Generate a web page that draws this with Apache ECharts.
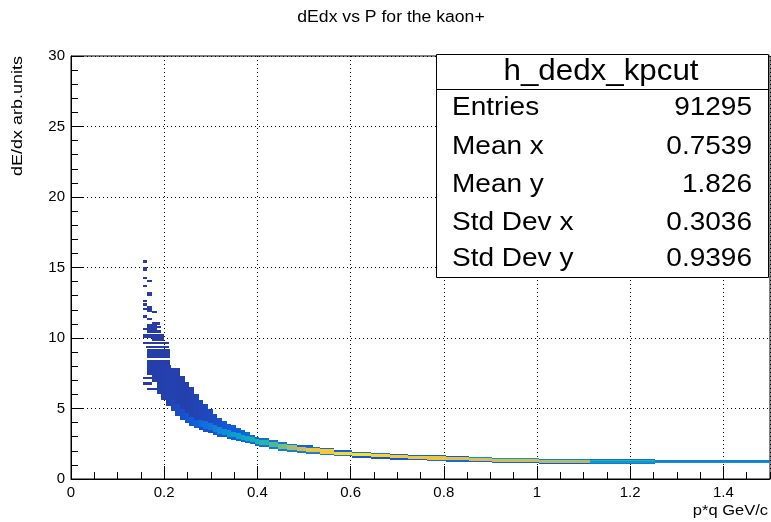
<!DOCTYPE html>
<html><head><meta charset="utf-8">
<script src="https://cdn.jsdelivr.net/npm/echarts@6/dist/echarts.min.js"></script>
<style>html,body{margin:0;padding:0;background:#fff}#c{width:771px;height:522px}</style>
</head><body><div id="c"></div>
<script>
// ---- data ----
const chartTitle = "dEdx vs P for the kaon+";
const xTitle = "p*q GeV/c";
const yTitle = "dE/dx arb.units";
const xTicks = [0, 0.2, 0.4, 0.6, 0.8, 1, 1.2, 1.4];
const yTicks = [0, 5, 10, 15, 20, 25, 30];
const statsName = "h_dedx_kpcut";
const statsLabels = ["Entries", "Mean x", "Mean y", "Std Dev x", "Std Dev y"];
const statsValues = ["91295", "0.7539", "1.826", "0.3036", "0.9396"];

// cells: [pLow, pHigh, dEdxLow, dEdxHigh, counts]
const sparseCells = [
  [0.154,0.164,15.35,15.5,40],[0.154,0.164,14.75,15.05,45],[0.154,0.164,14.15,14.3,40],
  [0.164,0.174,13.95,14.1,40],[0.154,0.164,13.6,13.75,40],[0.164,0.174,12.95,13.25,45],
  [0.154,0.164,12.55,12.7,40],[0.154,0.164,12.3,12.45,40],[0.164,0.174,11.85,12.3,45],
  [0.154,0.164,12.0,12.15,40],[0.174,0.184,11.8,11.95,40],[0.154,0.164,11.4,11.65,45],
  [0.164,0.174,11.25,11.4,40],[0.174,0.19,10.95,11.1,40],[0.164,0.184,10.6,11.0,45],
  [0.154,0.17,10.55,10.7,40],[0.184,0.194,10.7,10.85,40],[0.164,0.194,10.35,10.6,45],
  [0.154,0.2,10.0,10.3,45],[0.174,0.2,9.8,10.0,45],[0.154,0.21,9.55,9.7,40],
  [0.16,0.21,9.3,9.45,45],[0.164,0.213,8.6,9.2,50],[0.164,0.213,8.1,8.45,50],
  [0.154,0.174,6.7,6.85,40],[0.154,0.174,7.1,7.2,40],[0.164,0.184,6.3,6.45,40]
];
const lowBandCells = [
  [0.164,0.174,7.4,8.1,50],[0.174,0.184,6.9,8.1,50],[0.184,0.194,6.0,8.1,55],
  [0.194,0.204,5.6,8.1,55],[0.204,0.214,5.2,8.1,60],
  [0.214,0.224,4.8,5.6,75],[0.214,0.224,5.6,7.9,60],
  [0.224,0.234,4.45,5.3,85],[0.224,0.234,5.3,7.9,55],
  [0.234,0.244,4.2,5.0,95],[0.234,0.244,5.0,7.3,55],
  [0.244,0.254,3.95,4.7,110],[0.244,0.254,4.7,6.9,55],
  [0.254,0.264,3.75,4.4,120],[0.254,0.264,4.4,6.5,60],
  [0.264,0.274,3.6,4.2,140],[0.264,0.274,4.2,6.0,65],
  [0.274,0.284,3.45,3.7,90],[0.274,0.284,3.7,4.2,170],[0.274,0.284,4.2,5.6,70],
  [0.284,0.294,3.35,3.55,100],[0.284,0.294,3.55,4.1,190],[0.284,0.294,4.1,5.3,75],
  [0.294,0.304,3.25,3.45,100],[0.294,0.304,3.45,3.95,210],[0.294,0.304,3.95,5.0,80]
];
const midBandCells = [
  [0.304,0.314,3.1,3.3,110],[0.304,0.314,3.3,3.85,240],[0.304,0.314,3.85,4.6,90],
  [0.314,0.324,3.0,3.2,120],[0.314,0.324,3.2,3.7,270],[0.314,0.324,3.7,4.3,100],
  [0.324,0.334,2.95,3.1,120],[0.324,0.334,3.1,3.55,300],[0.324,0.334,3.55,4.1,110],
  [0.334,0.344,2.85,3.0,130],[0.334,0.344,3.0,3.45,330],[0.334,0.344,3.45,3.9,120],
  [0.344,0.354,2.8,2.95,140],[0.344,0.354,2.95,3.35,360],[0.344,0.354,3.35,3.8,130],
  [0.354,0.364,2.7,2.85,150],[0.354,0.364,2.85,3.25,380],[0.354,0.364,3.25,3.6,140],
  [0.364,0.374,2.62,2.75,160],[0.364,0.374,2.75,3.15,400],[0.364,0.374,3.15,3.45,150],
  [0.374,0.384,2.55,2.7,170],[0.374,0.384,2.7,3.05,410],[0.374,0.384,3.05,3.3,160],
  [0.384,0.394,2.45,2.6,180],[0.384,0.394,2.6,2.95,430],[0.384,0.394,2.95,3.15,170],
  [0.394,0.404,2.35,2.5,190],[0.394,0.404,2.5,2.85,450],[0.394,0.404,2.85,3.0,180],
  [0.404,0.424,2.25,2.4,200],[0.404,0.424,2.4,2.75,480],[0.404,0.424,2.75,2.9,190],
  [0.424,0.444,2.1,2.25,220],[0.424,0.444,2.25,2.6,540],[0.424,0.444,2.6,2.75,200],
  [0.444,0.464,2.0,2.15,240],[0.444,0.464,2.15,2.48,600],[0.444,0.464,2.48,2.62,210],
  [0.464,0.484,1.95,2.08,250],[0.464,0.484,2.08,2.38,680],[0.464,0.484,2.38,2.5,220],
  [0.484,0.504,1.85,1.98,250],[0.484,0.504,1.98,2.3,750],[0.484,0.52,2.3,2.4,150]
];
const highBandCells = [
  [0.504,0.534,1.78,1.9,260],[0.504,0.534,1.9,2.2,830],[0.504,0.534,2.2,2.3,200],
  [0.534,0.564,1.68,1.8,240],[0.534,0.564,1.8,2.1,880],[0.534,0.564,2.1,2.2,180],
  [0.564,0.604,1.6,1.7,220],[0.564,0.604,1.7,1.95,910],[0.564,0.604,1.95,2.05,150],
  [0.604,0.644,1.52,1.62,120],[0.604,0.644,1.62,1.85,930],[0.604,0.644,1.85,1.95,200],
  [0.644,0.684,1.45,1.55,110],[0.644,0.684,1.55,1.76,890],[0.644,0.684,1.76,1.85,260],
  [0.684,0.724,1.38,1.48,120],[0.684,0.724,1.48,1.7,870],[0.684,0.724,1.7,1.78,150],
  [0.724,0.764,1.33,1.43,130],[0.724,0.764,1.43,1.64,850],[0.724,0.764,1.64,1.72,160],
  [0.764,0.804,1.28,1.38,200],[0.764,0.804,1.38,1.6,830],[0.764,0.804,1.6,1.68,140],
  [0.804,0.854,1.22,1.32,180],[0.804,0.854,1.32,1.55,810],[0.804,0.854,1.55,1.62,110],
  [0.854,0.904,1.2,1.28,150],[0.854,0.904,1.28,1.48,780],[0.854,0.904,1.48,1.55,330],
  [0.904,1.004,1.16,1.24,150],[0.904,1.004,1.24,1.44,760],[0.904,1.004,1.44,1.5,350],
  [1.004,1.114,1.05,1.14,110],[1.004,1.114,1.14,1.34,700],[1.004,1.114,1.34,1.42,250],
  [1.114,1.254,1.08,1.16,230],[1.114,1.254,1.16,1.32,340],[1.114,1.254,1.32,1.38,480],[1.114,1.254,1.38,1.45,180],
  [1.254,1.5,1.1,1.18,230],[1.254,1.5,1.18,1.24,340],[1.254,1.5,1.24,1.36,240]
];
const zMax = 1000;
// ROOT kBird palette stops
const paletteStops = [
  [0.000,[53,42,135]],[0.125,[15,92,221]],[0.250,[20,129,214]],[0.375,[6,164,202]],
  [0.500,[46,183,164]],[0.625,[135,191,119]],[0.750,[209,187,89]],[0.875,[254,200,50]],
  [1.000,[249,251,14]]
];

function colorFor(c){
  let f = Math.max(0, Math.min(1, c / zMax));
  for (let i = 1; i < paletteStops.length; i++){
    const [f1, c1] = paletteStops[i], [f0, c0] = paletteStops[i-1];
    if (f <= f1){
      const t = (f - f0) / (f1 - f0);
      const r = c0.map((v,k)=>Math.round(v + (c1[k]-v)*t));
      return 'rgb(' + r.join(',') + ')';
    }
  }
  return 'rgb(249,251,14)';
}

const cells = sparseCells.concat(lowBandCells, midBandCells, highBandCells);
const FONT = "'Liberation Sans', Arial, Helvetica, sans-serif";

function renderItem(params, api){
  const a = api.coord([api.value(0), api.value(3)]);
  const b = api.coord([api.value(1), api.value(2)]);
  const x0 = Math.round(a[0]), x1 = Math.max(Math.round(b[0]), x0 + 1);
  const y0 = Math.round(a[1]), y1 = Math.max(Math.round(b[1]), y0 + 1);
  return {
    type: 'rect',
    shape: {x: x0, y: y0, width: x1 - x0, height: y1 - y0},
    style: {fill: colorFor(api.value(4))}
  };
}

const chart = echarts.init(document.getElementById('c'), null, {renderer: 'canvas'});

const graphics = [
  {type:'text', x:391, y:18, scaleX:1.1, z:100, style:{text:chartTitle, font:'16px '+FONT, fill:'#000', align:'center', verticalAlign:'middle'}},
  {type:'text', x:18, y:56, rotation:Math.PI/2, scaleX:1.2, z:100, style:{text:yTitle, font:'15px '+FONT, fill:'#000', align:'right', verticalAlign:'middle'}},
  {type:'text', x:768, y:511, scaleX:1.1, z:100, style:{text:xTitle, font:'15px '+FONT, fill:'#000', align:'right', verticalAlign:'middle'}},
  {type:'rect', x:0, y:0, z:100, shape:{x:436.5, y:54.5, width:332, height:223}, style:{fill:'#fff', stroke:'#000', lineWidth:1}},
  {type:'line', z:101, shape:{x1:436.5, y1:89.5, x2:768.5, y2:89.5}, style:{stroke:'#000', lineWidth:1}},
  {type:'text', x:601, y:72, scaleX:1.08, z:102, style:{text:statsName, font:'29px '+FONT, fill:'#000', align:'center', verticalAlign:'middle'}}
];
const rowY = [108, 147, 185, 223, 259];
statsLabels.forEach((lab, i) => {
  graphics.push({type:'text', x:452, y:rowY[i], scaleX:1.12, z:102, style:{text:lab, font:'25px '+FONT, fill:'#000', align:'left', verticalAlign:'middle'}});
  graphics.push({type:'text', x:752, y:rowY[i], scaleX:1.12, z:102, style:{text:statsValues[i], font:'25px '+FONT, fill:'#000', align:'right', verticalAlign:'middle'}});
});

const option = {
  animation: false,
  backgroundColor: '#fff',
  grid: {left:71, right:1, top:56, bottom:43, show:true, borderColor:'#000', borderWidth:1, backgroundColor:'transparent'},
  xAxis: [{
    type:'value', min:0, max:1.5, interval:0.2,
    axisLine:{show:true, onZero:false, lineStyle:{color:'#000', width:1}},
    axisTick:{show:true, inside:true, length:13, lineStyle:{color:'#000'}},
    axisLabel:{show:true, margin:6, color:'#000', fontSize:15, fontFamily:FONT, showMaxLabel:false,
      formatter: v => { const t = xTicks.find(q => Math.abs(q - v) < 1e-6); return t === undefined ? '' : String(t); }},
    splitLine:{show:true, lineStyle:{color:'#000', width:1, type:[1,3]}}
  },{
    type:'value', min:0, max:1.5, interval:0.05, position:'bottom',
    axisLine:{show:false}, axisLabel:{show:false}, splitLine:{show:false},
    axisTick:{show:true, inside:true, length:7, lineStyle:{color:'#000'}}
  }],
  yAxis: {
    type:'value', min:0, max:30, interval:5,
    axisLine:{show:true, onZero:false, lineStyle:{color:'#000', width:1}},
    axisTick:{show:true, inside:true, length:13, lineStyle:{color:'#000'}},
    minorTick:{show:true, splitNumber:5, length:7, lineStyle:{color:'#000'}},
    axisLabel:{show:true, margin:6, color:'#000', fontSize:15, fontFamily:FONT,
      formatter: v => { const t = yTicks.find(q => Math.abs(q - v) < 1e-6); return t === undefined ? '' : String(t); }},
    splitLine:{show:true, lineStyle:{color:'#000', width:1, type:[1,3]}}
  },
  graphic: graphics,
  series: [{
    type:'custom', renderItem: renderItem, xAxisIndex:0, yAxisIndex:0,
    encode:{x:[0,1], y:[2,3]}, clip:true, data: cells, z:1
  }]
};
chart.setOption(option);
</script>
</body></html>
